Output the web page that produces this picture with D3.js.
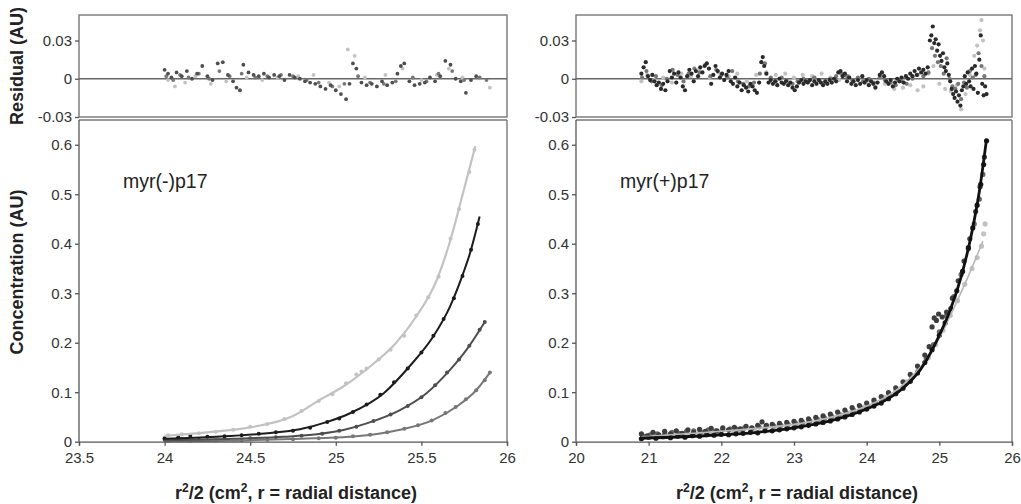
<!DOCTYPE html>
<html>
<head>
<meta charset="utf-8">
<script src="https://cdn.jsdelivr.net/npm/d3@7"></script>
<style>
body { margin: 0; background: #fff; }
svg { font-family: "Liberation Sans", Arial, sans-serif; }
.tick text { fill: #333; font-size: 15px; }
.tick line, .domain { stroke: #555; stroke-width: 1.3; }
.ttl { font-weight: bold; font-size: 18px; fill: #222; }
.lab { font-size: 19.5px; fill: #222; }
</style>
</head>
<body>
<svg id="chart" width="1021" height="504"></svg>
<script>
// ---------------- data: myr(-)p17 (left) ----------------
const leftXTicks = [23.5, 24, 24.5, 25, 25.5, 26];
const rightXTicks = [20, 21, 22, 23, 24, 25, 26];
const concTicks = [0, 0.1, 0.2, 0.3, 0.4, 0.5, 0.6];
const resTicks = [-0.03, 0, 0.03];

// fitted curves [x, conc]
const fitL_light = [[24.0,0.012],[24.25,0.019],[24.5,0.029],[24.75,0.052],[24.9,0.083],[25.05,0.113],[25.2,0.152],[25.35,0.199],[25.47,0.253],[25.59,0.327],[25.67,0.408],[25.745,0.505],[25.815,0.597]];
const fitL_black = [[24.0,0.006],[24.3,0.010],[24.6,0.017],[24.79,0.025],[24.95,0.040],[25.08,0.057],[25.28,0.098],[25.43,0.152],[25.57,0.213],[25.667,0.273],[25.745,0.341],[25.784,0.381],[25.84,0.455]];
const fitL_dark = [[24.0,0.003],[24.4,0.006],[24.7,0.010],[24.89,0.015],[25.05,0.024],[25.18,0.037],[25.375,0.064],[25.53,0.098],[25.667,0.145],[25.764,0.186],[25.872,0.243]];
const fitL_mid = [[24.0,0.001],[24.5,0.003],[24.8,0.006],[25.08,0.010],[25.25,0.016],[25.375,0.024],[25.57,0.044],[25.706,0.071],[25.823,0.105],[25.905,0.142]];

// observed points [x, conc]
const ptsL_light = [[24.02,0.013],[24.1,0.015],[24.2,0.017],[24.3,0.020],[24.4,0.024],[24.5,0.030],[24.6,0.036],[24.7,0.046],[24.8,0.062],[24.9,0.082],[24.98,0.096],[25.06,0.118],[25.12,0.136],[25.15,0.142],[25.18,0.148],[25.25,0.166],[25.32,0.186],[25.4,0.214],[25.47,0.255],[25.54,0.292],[25.6,0.334],[25.67,0.41],[25.72,0.47],[25.78,0.545],[25.81,0.59]];
const ptsL_black = [[24.0,0.007],[24.08,0.009],[24.15,0.012],[24.25,0.010],[24.35,0.011],[24.45,0.013],[24.55,0.016],[24.65,0.019],[24.75,0.022],[24.85,0.028],[24.95,0.040],[25.02,0.047],[25.1,0.060],[25.18,0.075],[25.26,0.095],[25.34,0.12],[25.42,0.148],[25.5,0.18],[25.57,0.214],[25.63,0.248],[25.69,0.29],[25.74,0.335],[25.79,0.388],[25.83,0.44]];
const ptsL_dark = [[24.0,0.004],[24.1,0.005],[24.2,0.004],[24.35,0.006],[24.5,0.007],[24.65,0.009],[24.8,0.012],[24.92,0.016],[25.02,0.022],[25.12,0.030],[25.22,0.042],[25.32,0.055],[25.42,0.072],[25.5,0.09],[25.58,0.114],[25.65,0.14],[25.72,0.166],[25.78,0.194],[25.84,0.226],[25.87,0.242]];
const ptsL_mid = [[24.02,0.002],[24.15,0.002],[24.3,0.003],[24.45,0.003],[24.6,0.004],[24.75,0.005],[24.9,0.007],[25.0,0.008],[25.1,0.011],[25.2,0.014],[25.3,0.019],[25.4,0.026],[25.48,0.033],[25.56,0.043],[25.64,0.058],[25.7,0.07],[25.76,0.086],[25.82,0.104],[25.87,0.124],[25.9,0.14]];

// residuals [x, residual]
const resL_dark = [[24.00,0.007],[24.02,0.004],[24.04,0.001],[24.07,0.005],[24.10,0.002],[24.13,0.006],[24.16,0.000],[24.19,0.004],[24.22,0.010],[24.25,0.002],[24.28,-0.001],[24.31,0.012],[24.34,0.013],[24.37,0.003],[24.40,-0.002],[24.42,-0.007],[24.44,-0.009],[24.46,0.011],[24.49,0.005],[24.52,0.003],[24.55,0.002],[24.58,0.004],[24.61,0.001],[24.64,0.003],[24.67,0.002],[24.70,-0.001],[24.73,0.003],[24.76,0.001],[24.79,0.000],[24.82,-0.002],[24.85,-0.003],[24.88,-0.004],[24.91,-0.006],[24.94,-0.008],[24.97,-0.005],[25.00,-0.009],[25.03,-0.012],[25.06,-0.016],[25.08,-0.004],[25.10,0.012],[25.12,0.008],[25.15,-0.003],[25.18,-0.005],[25.21,-0.004],[25.24,-0.006],[25.27,-0.002],[25.30,-0.005],[25.33,-0.003],[25.36,0.004],[25.38,0.010],[25.40,0.012],[25.43,-0.002],[25.46,-0.005],[25.49,-0.004],[25.52,-0.003],[25.55,0.001],[25.58,-0.002],[25.61,0.002],[25.64,0.014],[25.67,0.011],[25.70,0.000],[25.73,-0.002],[25.76,-0.011],[25.79,-0.001],[25.82,0.002]];
const resL_mid = [[24.01,0.002],[24.05,-0.001],[24.09,0.003],[24.14,0.001],[24.20,0.004],[24.26,0.000],[24.32,0.006],[24.38,0.002],[24.45,0.004],[24.53,0.001],[24.6,0.002],[24.68,0.003],[24.75,0.002],[24.83,-0.001],[24.9,-0.003],[24.98,-0.006],[25.05,-0.004],[25.13,0.002],[25.2,-0.003],[25.28,-0.004],[25.35,-0.002],[25.45,0.001],[25.53,-0.002],[25.6,0.004],[25.68,0.006],[25.75,-0.001],[25.84,0.001],[25.88,-0.001]];
const resL_light = [[24.02,-0.001],[24.06,-0.006],[24.12,-0.003],[24.18,0.002],[24.27,-0.004],[24.36,-0.002],[24.48,0.001],[24.57,-0.001],[24.66,0.001],[24.78,0.002],[24.87,0.003],[24.96,-0.003],[25.02,-0.006],[25.07,0.023],[25.11,0.018],[25.17,0.001],[25.29,0.003],[25.39,0.008],[25.5,-0.001],[25.59,0.003],[25.66,0.008],[25.74,0.001],[25.90,-0.007]];

// ---------------- data: myr(+)p17 (right) ----------------
const fitR_black = [[20.88,0.007],[21.5,0.010],[22,0.014],[22.5,0.019],[23,0.028],[23.5,0.042],[24,0.066],[24.25,0.083],[24.5,0.108],[24.75,0.148],[25.0,0.215],[25.15,0.266],[25.3,0.333],[25.45,0.425],[25.55,0.505],[25.65,0.612]];
const fitR_light = [[20.9,0.010],[21.5,0.016],[22,0.021],[22.5,0.027],[23,0.035],[23.5,0.049],[24,0.072],[24.5,0.115],[24.8,0.162],[25.0,0.210],[25.2,0.270],[25.4,0.335],[25.6,0.405]];

const ptsR_black = [[20.90,0.006],[21.00,0.009],[21.10,0.007],[21.20,0.010],[21.30,0.008],[21.40,0.011],[21.50,0.009],[21.60,0.012],[21.70,0.011],[21.80,0.014],[21.90,0.013],[22.00,0.015],[22.10,0.014],[22.20,0.016],[22.30,0.017],[22.40,0.019],[22.50,0.018],[22.60,0.022],[22.70,0.022],[22.80,0.024],[22.90,0.026],[23.00,0.028],[23.10,0.030],[23.20,0.033],[23.30,0.036],[23.40,0.039],[23.50,0.042],[23.60,0.046],[23.70,0.050],[23.80,0.055],[23.90,0.060],[24.00,0.066],[24.10,0.072],[24.20,0.078],[24.30,0.087],[24.40,0.097],[24.50,0.108],[24.60,0.122],[24.70,0.139],[24.80,0.160],[24.90,0.186],[25.00,0.215],[25.08,0.240],[25.16,0.269],[25.24,0.305],[25.32,0.344],[25.40,0.392],[25.46,0.432],[25.52,0.478],[25.57,0.520],[25.61,0.560],[25.65,0.608]];
const ptsR_dark = [[20.90,0.016],[20.98,0.012],[21.06,0.019],[21.14,0.014],[21.22,0.021],[21.30,0.016],[21.38,0.022],[21.46,0.017],[21.54,0.024],[21.62,0.019],[21.70,0.025],[21.78,0.021],[21.86,0.027],[21.94,0.022],[22.02,0.028],[22.10,0.024],[22.18,0.029],[22.26,0.026],[22.34,0.031],[22.42,0.028],[22.50,0.033],[22.56,0.040],[22.62,0.033],[22.70,0.035],[22.80,0.037],[22.90,0.039],[23.00,0.041],[23.10,0.043],[23.20,0.046],[23.30,0.049],[23.40,0.052],[23.50,0.056],[23.60,0.060],[23.70,0.064],[23.80,0.069],[23.90,0.073],[24.00,0.078],[24.10,0.084],[24.20,0.091],[24.30,0.099],[24.40,0.109],[24.50,0.121],[24.60,0.136],[24.70,0.153],[24.80,0.175],[24.86,0.192],[24.90,0.232],[24.93,0.250],[24.96,0.245],[24.99,0.258],[25.04,0.252],[25.10,0.262],[25.18,0.290],[25.26,0.325],[25.34,0.365],[25.42,0.410],[25.50,0.465],[25.56,0.515],[25.62,0.575]];
const ptsR_mid = [[20.92,0.012],[21.02,0.014],[21.12,0.016],[21.22,0.015],[21.32,0.019],[21.42,0.017],[21.52,0.021],[21.62,0.022],[21.72,0.020],[21.82,0.024],[21.92,0.022],[22.02,0.025],[22.12,0.026],[22.22,0.025],[22.32,0.028],[22.42,0.027],[22.52,0.030],[22.62,0.031],[22.72,0.032],[22.82,0.033],[22.92,0.035],[23.02,0.037],[23.12,0.039],[23.22,0.042],[23.32,0.045],[23.42,0.048],[23.52,0.051],[23.62,0.055],[23.72,0.059],[23.82,0.064],[23.92,0.068],[24.02,0.072],[24.12,0.078],[24.22,0.085],[24.32,0.093],[24.42,0.103],[24.52,0.115],[24.62,0.129],[24.72,0.146],[24.82,0.168],[24.92,0.196],[25.00,0.222],[25.10,0.255],[25.20,0.293],[25.30,0.338],[25.40,0.390],[25.48,0.440],[25.55,0.490],[25.60,0.540]];
const ptsR_light = [[20.95,0.010],[21.10,0.012],[21.25,0.014],[21.40,0.015],[21.55,0.017],[21.70,0.018],[21.85,0.020],[22.00,0.021],[22.15,0.023],[22.30,0.024],[22.45,0.026],[22.60,0.028],[22.75,0.030],[22.90,0.033],[23.05,0.036],[23.20,0.040],[23.35,0.044],[23.50,0.049],[23.65,0.055],[23.80,0.062],[23.95,0.070],[24.10,0.079],[24.25,0.090],[24.40,0.104],[24.55,0.121],[24.70,0.142],[24.85,0.170],[24.95,0.196],[25.05,0.225],[25.15,0.255],[25.25,0.285],[25.35,0.318],[25.45,0.350],[25.52,0.372],[25.58,0.395],[25.61,0.420],[25.63,0.440]];

const resR_black = [[20.90,0.004],[20.93,0.009],[20.96,0.013],[20.99,0.002],[21.02,-0.001],[21.05,0.003],[21.08,-0.002],[21.11,-0.005],[21.14,-0.003],[21.17,-0.008],[21.20,-0.004],[21.23,-0.009],[21.26,-0.002],[21.29,0.006],[21.32,0.001],[21.35,0.004],[21.38,-0.003],[21.41,0.005],[21.44,0.001],[21.47,-0.006],[21.50,-0.009],[21.53,0.002],[21.56,0.007],[21.59,0.004],[21.62,-0.002],[21.65,0.006],[21.68,0.002],[21.71,0.009],[21.74,0.005],[21.77,0.010],[21.80,0.012],[21.83,0.008],[21.86,-0.004],[21.89,0.003],[21.92,0.010],[21.95,0.006],[21.98,0.001],[22.01,0.004],[22.04,-0.001],[22.07,0.003],[22.10,0.006],[22.13,-0.002],[22.16,-0.004],[22.19,0.001],[22.22,-0.006],[22.25,-0.003],[22.28,-0.009],[22.31,-0.005],[22.34,-0.007],[22.37,-0.010],[22.40,-0.004],[22.43,-0.006],[22.46,-0.009],[22.49,-0.011],[22.52,-0.003],[22.55,0.013],[22.57,0.017],[22.59,0.010],[22.62,0.004],[22.65,-0.003],[22.68,-0.001],[22.71,-0.004],[22.74,-0.002],[22.77,-0.005],[22.80,0.000],[22.83,-0.003],[22.86,-0.004],[22.89,-0.002],[22.92,-0.005],[22.95,-0.003],[22.98,-0.007],[23.01,-0.009],[23.04,-0.006],[23.07,-0.003],[23.10,-0.001],[23.13,-0.004],[23.16,-0.002],[23.19,-0.003],[23.22,-0.001],[23.25,-0.005],[23.28,-0.002],[23.31,-0.004],[23.34,-0.001],[23.37,-0.003],[23.40,-0.005],[23.43,-0.002],[23.46,-0.004],[23.49,-0.001],[23.52,-0.003],[23.55,0.000],[23.58,-0.002],[23.61,0.005],[23.64,0.006],[23.67,0.002],[23.70,0.004],[23.73,-0.002],[23.76,0.001],[23.79,-0.004],[23.82,-0.002],[23.85,-0.005],[23.88,-0.001],[23.91,-0.004],[23.94,0.002],[23.97,-0.003],[24.00,-0.001],[24.03,-0.005],[24.06,-0.002],[24.09,-0.004],[24.12,-0.007],[24.15,-0.003],[24.18,0.003],[24.21,0.005],[24.24,0.002],[24.27,-0.002],[24.30,-0.004],[24.33,-0.001],[24.36,-0.006],[24.39,-0.003],[24.42,0.000],[24.45,-0.002],[24.48,0.001],[24.51,-0.003],[24.54,0.002],[24.57,0.000],[24.60,0.004],[24.63,0.002],[24.66,0.006],[24.69,0.003],[24.72,0.008],[24.75,0.005],[24.78,0.007],[24.81,0.004],[24.84,0.009],[24.87,0.030],[24.89,0.034],[24.91,0.041],[24.93,0.028],[24.95,0.031],[24.97,0.022],[24.99,0.027],[25.01,0.018],[25.03,0.014],[25.05,0.020],[25.07,0.009],[25.09,0.006],[25.11,0.012],[25.13,0.003],[25.15,-0.002],[25.17,-0.008],[25.19,-0.012],[25.21,-0.015],[25.23,-0.010],[25.25,-0.018],[25.27,-0.013],[25.29,-0.021],[25.31,-0.009],[25.33,-0.006],[25.35,0.002],[25.37,-0.004],[25.39,0.005],[25.41,-0.002],[25.43,-0.006],[25.45,0.008],[25.47,-0.008],[25.49,0.010],[25.51,0.004],[25.53,-0.011],[25.55,0.015],[25.57,0.034],[25.59,-0.004],[25.61,-0.013],[25.63,-0.006],[25.65,-0.012]];
const resR_mid = [[20.91,0.001],[20.97,0.006],[21.04,-0.002],[21.10,0.002],[21.18,-0.005],[21.25,0.000],[21.33,0.007],[21.40,0.003],[21.48,-0.002],[21.55,0.004],[21.63,0.008],[21.70,0.005],[21.78,0.011],[21.85,0.002],[21.93,0.007],[22.00,0.003],[22.08,0.001],[22.15,0.006],[22.23,-0.002],[22.30,-0.004],[22.38,-0.006],[22.45,-0.003],[22.53,0.004],[22.60,0.012],[22.68,0.001],[22.75,-0.002],[22.83,0.001],[22.90,-0.001],[22.98,-0.004],[23.05,-0.002],[23.13,0.000],[23.20,-0.002],[23.28,0.001],[23.35,-0.001],[23.43,-0.003],[23.50,0.000],[23.58,0.002],[23.65,0.004],[23.73,0.002],[23.80,-0.001],[23.88,0.001],[23.95,-0.002],[24.03,0.000],[24.10,-0.003],[24.18,0.001],[24.25,-0.001],[24.33,-0.003],[24.40,-0.005],[24.48,-0.002],[24.55,-0.004],[24.63,0.000],[24.70,0.003],[24.78,0.002],[24.85,0.005],[24.90,0.024],[24.94,0.018],[24.98,0.013],[25.02,0.010],[25.06,0.004],[25.10,0.016],[25.14,0.000],[25.18,-0.006],[25.22,-0.008],[25.26,-0.004],[25.30,-0.016],[25.34,-0.003],[25.38,-0.007],[25.42,0.006],[25.46,0.001],[25.50,0.003],[25.54,0.020],[25.58,0.010],[25.62,0.002]];
const resR_light = [[20.90,-0.002],[20.98,0.003],[21.08,-0.001],[21.20,0.001],[21.32,-0.003],[21.45,0.004],[21.58,0.002],[21.70,0.008],[21.84,0.001],[21.96,0.005],[22.10,0.002],[22.22,0.004],[22.35,-0.002],[22.48,0.003],[22.62,0.005],[22.75,0.003],[22.88,0.004],[23.00,0.001],[23.12,0.003],[23.25,0.002],[23.38,0.004],[23.50,0.001],[23.62,-0.001],[23.75,0.002],[23.88,0.000],[24.00,-0.003],[24.12,-0.006],[24.25,-0.004],[24.38,-0.008],[24.50,-0.007],[24.60,-0.005],[24.70,-0.009],[24.78,-0.006],[24.85,0.004],[24.92,0.010],[25.00,-0.004],[25.08,-0.008],[25.16,-0.010],[25.24,-0.005],[25.30,-0.024],[25.36,-0.012],[25.42,0.003],[25.48,0.018],[25.52,0.026],[25.56,0.038],[25.58,0.046],[25.60,0.030],[25.62,0.008]];

// ---------------- layout ----------------
const svg = d3.select("#chart");
const resTop = 15, resBot = 117, mainTop = 120, mainBot = 441.7;
const C = {light: "#c2c2c2", black: "#1c1c1c", dark: "#4e4e4e", mid: "#777"};

const panels = [
    {x0: 79, x1: 507, xDom: [23.5, 26], xTicks: leftXTicks, label: "myr(-)p17", labX: 123, dotR: 2, resR: 1.9,
     res: [[resL_light, C.light], [resL_mid, C.mid], [resL_dark, C.dark]],
     pts: [[ptsL_light, C.light], [ptsL_mid, C.mid], [ptsL_dark, C.dark], [ptsL_black, C.black]],
     fits: [[fitL_light, C.light, 2.2], [fitL_mid, C.mid, 2], [fitL_dark, C.dark, 2], [fitL_black, C.black, 2]]},
    {x0: 576, x1: 1012, xDom: [20, 26], xTicks: rightXTicks, label: "myr(+)p17", labX: 620, dotR: 2.6, resR: 2.1,
     res: [[resR_light, C.light], [resR_mid, C.mid], [resR_black, "#2a2a2a"]],
     pts: [[ptsR_light, C.light], [ptsR_mid, "#6a6a6a"], [ptsR_dark, "#3e3e3e"], [ptsR_black, C.black]],
     fits: [[fitR_light, "#b8b8b8", 1.6], [fitR_black, "#111", 2.8]]}
];

panels.forEach((p, i) => {
    const x = d3.scaleLinear().domain(p.xDom).range([p.x0, p.x1]);
    const yR = d3.scaleLinear().domain([-0.03, 0.05]).range([resBot, resTop]);
    const yM = d3.scaleLinear().domain([0, 0.65]).range([mainBot, mainTop]);
    const g = svg.append("g");

    // residual panel
    const clipId = "clip" + i;
    svg.append("clipPath").attr("id", clipId)
        .append("rect").attr("x", p.x0).attr("y", resTop).attr("width", p.x1 - p.x0).attr("height", resBot - resTop);

    g.append("rect")
        .attr("x", p.x0).attr("y", resTop)
        .attr("width", p.x1 - p.x0).attr("height", resBot - resTop)
        .attr("fill", "none").attr("stroke", "#777").attr("stroke-width", 1.4);

    g.append("line")
        .attr("x1", p.x0).attr("x2", p.x1)
        .attr("y1", yR(0)).attr("y2", yR(0))
        .attr("stroke", "#666").attr("stroke-width", 1.5);

    p.res.forEach(([data, col]) => {
        g.append("g").attr("clip-path", `url(#${clipId})`)
            .selectAll("circle").data(data).join("circle")
            .attr("cx", d => x(d[0]))
            .attr("cy", d => yR(d[1]))
            .attr("r", p.resR)
            .attr("fill", col);
    });

    g.append("g")
        .attr("transform", `translate(${p.x0},0)`)
        .call(d3.axisLeft(yR).tickValues(resTicks).tickSize(4).tickPadding(3).tickFormat(d => d))
        .call(a => a.select(".domain").remove());

    // main panel frame (top + right)
    g.append("line").attr("x1", p.x0).attr("x2", p.x1).attr("y1", mainTop).attr("y2", mainTop)
        .attr("stroke", "#777").attr("stroke-width", 1.4);
    g.append("line").attr("x1", p.x1).attr("x2", p.x1).attr("y1", mainTop).attr("y2", mainBot)
        .attr("stroke", "#777").attr("stroke-width", 1.4);

    p.pts.forEach(([data, col]) => {
        g.append("g").selectAll("circle").data(data).join("circle")
            .attr("cx", d => x(d[0]))
            .attr("cy", d => yM(d[1]))
            .attr("r", p.dotR)
            .attr("fill", col);
    });

    const line = d3.line().x(d => x(d[0])).y(d => yM(d[1])).curve(d3.curveMonotoneX);
    p.fits.forEach(([data, col, w]) => {
        g.append("path").datum(data)
            .attr("d", line)
            .attr("fill", "none")
            .attr("stroke", col)
            .attr("stroke-width", w);
    });

    g.append("g")
        .attr("transform", `translate(${p.x0},0)`)
        .call(d3.axisLeft(yM).tickValues(concTicks).tickSize(4).tickPadding(3).tickFormat(d => d))
        .call(a => a.select(".domain").attr("d", `M0,${mainTop}V${mainBot}`));

    g.append("g")
        .attr("transform", `translate(0,${mainBot})`)
        .call(d3.axisBottom(x).tickValues(p.xTicks).tickSize(4).tickPadding(4).tickFormat(d => d))
        .selectAll(".tick text").attr("dy", "0.9em");

    g.append("text")
        .attr("class", "lab")
        .attr("x", p.labX).attr("y", 188)
        .text(p.label);

    const xt = g.append("text")
        .attr("class", "ttl")
        .attr("text-anchor", "middle")
        .attr("x", (p.x0 + p.x1) / 2 + 3)
        .attr("y", 499);
    xt.append("tspan").text("r");
    xt.append("tspan").attr("baseline-shift", "super").attr("font-size", "12px").text("2");
    xt.append("tspan").text("/2 (cm");
    xt.append("tspan").attr("baseline-shift", "super").attr("font-size", "12px").text("2");
    xt.append("tspan").text(", r = radial distance)");
});

// y axis titles
svg.append("text").attr("class", "ttl")
    .attr("text-anchor", "middle")
    .attr("transform", "translate(23,66) rotate(-90)")
    .text("Residual (AU)");

svg.append("text").attr("class", "ttl")
    .attr("text-anchor", "middle")
    .attr("transform", "translate(23,272) rotate(-90)")
    .text("Concentration (AU)");
</script>
</body>
</html>
